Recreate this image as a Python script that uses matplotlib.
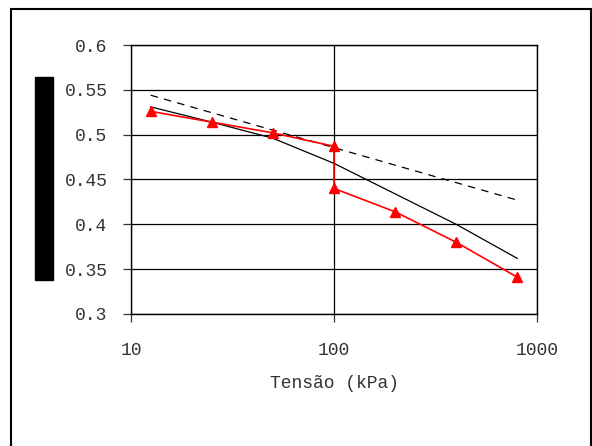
import matplotlib.pyplot as plt
from matplotlib.patches import Rectangle
from matplotlib.ticker import FixedLocator, NullLocator, FormatStrFormatter

plt.rcParams['font.family'] = ['Liberation Mono', 'DejaVu Sans Mono']

# load steps (kPa)
tensao = [12.5, 25, 50, 100, 100, 200, 400, 800]
e_ensaio = [0.526, 0.514, 0.502, 0.487, 0.440, 0.414, 0.380, 0.341]

tensao_curva = [12.5, 25, 50, 100, 200, 400, 800]
e_curva = [0.531, 0.514, 0.496, 0.468, 0.434, 0.400, 0.362]

tensao_reta = [12.5, 800]
e_reta = [0.544, 0.427]

yticks = [0.3, 0.35, 0.4, 0.45, 0.5, 0.55, 0.6]
xticks = [10, 100, 1000]

W, H = 592, 446
fig = plt.figure(figsize=(W / 100, H / 100), dpi=100)
ax = fig.add_axes([131 / W, 1 - 314 / H, 406 / W, 269 / H])

ax.plot(tensao_reta, e_reta, color='black', lw=0.9, ls=(0, (6, 5)))
ax.plot(tensao_curva, e_curva, color='black', lw=0.9)
ax.plot(tensao, e_ensaio, color='red', lw=1.2, marker='^', ms=7,
        markeredgecolor='red', markerfacecolor='red')

ax.set_xscale('log')
ax.set_xlim(10, 1000)
ax.set_ylim(0.3, 0.6)
ax.xaxis.set_major_locator(FixedLocator(xticks))
ax.xaxis.set_minor_locator(NullLocator())
ax.set_xticklabels([str(t) for t in xticks])
ax.set_yticks(yticks)
ax.set_yticklabels([('%g' % v) for v in yticks])

ax.grid(True, which='major', color='black', lw=0.9)
for s in ax.spines.values():
    s.set_color('black')
    s.set_linewidth(1.0)

ax.tick_params(axis='y', length=6, width=0.9, pad=11, labelsize=13, colors='#333333')
ax.tick_params(axis='x', length=6, width=0.9, pad=14, labelsize=13, colors='#333333')
for t in ax.get_xticklabels() + ax.get_yticklabels():
    t.set_color('#333333')

ax.set_xlabel('Tensão (kPa)', fontsize=13, color='#333333', labelpad=12)

# black box where the y label sits
fig.patches.append(Rectangle((35 / W, 1 - 280 / H), 18 / W, 203 / H,
                             transform=fig.transFigure, color='black', zorder=5))
# outer frame
fig.patches.append(Rectangle((10.5 / W, -0.05), 580.5 / W, 1.05 - 8.5 / H,
                             transform=fig.transFigure, fill=False,
                             edgecolor='black', lw=1.5))

fig.savefig('out.png', dpi=100)
